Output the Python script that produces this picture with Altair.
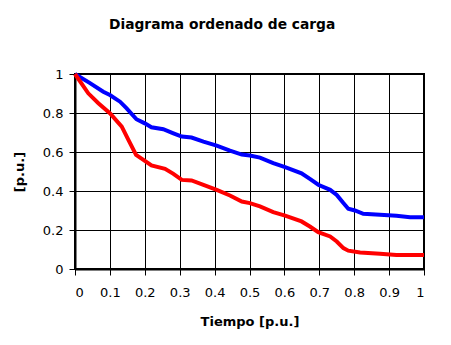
import altair as alt
import pandas as pd

blue_x = [0, 0.043, 0.081, 0.1, 0.129, 0.148, 0.176, 0.2, 0.219, 0.253, 0.282, 0.306, 0.334, 0.368, 0.406, 0.444, 0.478, 0.501, 0.53, 0.568, 0.602, 0.649, 0.673, 0.697, 0.731, 0.75, 0.769, 0.783, 0.802, 0.826, 0.874, 0.921, 0.96, 1.0]
blue_y = [1.0, 0.953, 0.909, 0.892, 0.858, 0.824, 0.768, 0.747, 0.727, 0.717, 0.696, 0.679, 0.674, 0.653, 0.633, 0.607, 0.587, 0.582, 0.571, 0.543, 0.522, 0.491, 0.462, 0.432, 0.406, 0.380, 0.338, 0.309, 0.300, 0.283, 0.278, 0.273, 0.266, 0.266]

red_x = [0, 0.038, 0.067, 0.1, 0.134, 0.153, 0.175, 0.196, 0.219, 0.258, 0.282, 0.306, 0.334, 0.368, 0.406, 0.444, 0.478, 0.501, 0.53, 0.568, 0.602, 0.649, 0.673, 0.697, 0.731, 0.75, 0.769, 0.783, 0.817, 0.874, 0.921, 1.0]
red_y = [1.0, 0.901, 0.85, 0.799, 0.730, 0.662, 0.585, 0.560, 0.531, 0.514, 0.488, 0.457, 0.454, 0.432, 0.406, 0.377, 0.346, 0.338, 0.321, 0.292, 0.274, 0.244, 0.218, 0.189, 0.167, 0.141, 0.107, 0.094, 0.085, 0.078, 0.072, 0.072]

x_ticks = [0, 0.1, 0.2, 0.3, 0.4, 0.5, 0.6, 0.7, 0.8, 0.9, 1]
y_ticks = [0, 0.2, 0.4, 0.6, 0.8, 1]

df = pd.concat([
    pd.DataFrame({"t": blue_x, "v": blue_y, "serie": "azul", "o": range(len(blue_x))}),
    pd.DataFrame({"t": red_x, "v": red_y, "serie": "rojo", "o": range(len(red_x))}),
])

FONT = "DejaVu Sans"

chart = alt.Chart(df).mark_line(strokeWidth=4, strokeCap="butt").encode(
    x=alt.X("t:Q", scale=alt.Scale(domain=[0, 1], nice=False),
            axis=alt.Axis(values=x_ticks, title="Tiempo [p.u.]", labelExpr="datum.value",
                          labelPadding=11, titlePadding=16)),
    y=alt.Y("v:Q", scale=alt.Scale(domain=[0, 1], nice=False),
            axis=alt.Axis(values=y_ticks, title="[p.u.]", labelExpr="datum.value",
                          labelPadding=6, titlePadding=16)),
    color=alt.Color("serie:N", scale=alt.Scale(domain=["azul", "rojo"], range=["#0000FF", "#FF0000"]), legend=None),
    order="o:Q",
).properties(
    width=349, height=195,
    background="white",
    title=alt.TitleParams("Diagrama ordenado de carga", anchor="start", frame="group", dx=34,
                          offset=34, font=FONT, fontSize=13.8, fontWeight="bold", color="black"),
    autosize=alt.AutoSizeParams(type="none"),
    padding={"left": 75, "top": 74, "right": 27, "bottom": 76},
).configure_view(
    stroke="black", strokeWidth=2
).configure_axis(
    domainColor="black", domainWidth=2, gridColor="black", gridWidth=1, gridOpacity=1,
    tickColor="black", tickSize=6, tickWidth=1,
    labelFont=FONT, labelFontSize=13, labelColor="black",
    titleFont=FONT, titleFontSize=13, titleFontWeight="bold", titleColor="black",
)

chart.save("out.html", embed_options={"renderer": "svg", "actions": False})
